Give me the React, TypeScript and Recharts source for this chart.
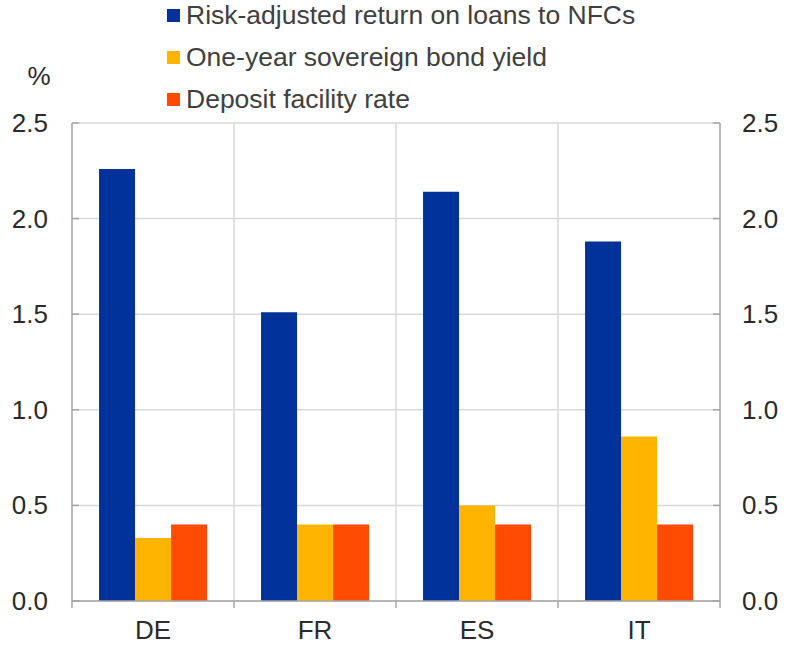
import React from "react";
import {
  ComposedChart,
  Bar,
  Line,
  XAxis,
  YAxis,
  CartesianGrid,
  Legend,
} from "recharts";

const countries = ["DE", "FR", "ES", "IT"];
const riskAdjustedReturn = [2.26, 1.51, 2.14, 1.88];
const sovereignYield = [0.33, 0.4, 0.5, 0.86];
const depositRate = [0.4, 0.4, 0.4, 0.4];
const yTicks = [0, 0.5, 1.0, 1.5, 2.0, 2.5];

const series = [
  { key: "loans", name: "Risk-adjusted return on loans to NFCs", color: "#003299" },
  { key: "bond", name: "One-year sovereign bond yield", color: "#FFB400" },
  { key: "dfr", name: "Deposit facility rate", color: "#FF4B00" },
];

const data = countries.map((c, i) => ({
  name: c,
  loans: riskAdjustedReturn[i],
  bond: sovereignYield[i],
  dfr: depositRate[i],
}));

const W = 792;
const H = 645;
const AXIS_W = 72;
const TOP = 123;
const XAXIS_H = 44;
const PLOT_W = W - 2 * AXIS_W;
const BAND = PLOT_W / countries.length;

const FONT = "'Liberation Sans', Arial, sans-serif";
const FS = 26;
const AXIS_COLOR = "#a6a6a6";
const GRID_COLOR = "#d9d9d9";
const TEXT_COLOR = "#2b2b2b";

const LeftTick = (props: any) => {
  const { x, y, payload } = props;
  return (
    <g>
      <line x1={x} x2={x + 7} y1={y} y2={y} stroke={AXIS_COLOR} strokeWidth={1.5} />
      <text x={x - 24} y={y + 9} textAnchor="end" fontSize={FS} fill={TEXT_COLOR} fontFamily={FONT}>
        {payload.value.toFixed(1)}
      </text>
    </g>
  );
};

const RightTick = (props: any) => {
  const { x, y, payload } = props;
  return (
    <g>
      <line x1={x - 7} x2={x} y1={y} y2={y} stroke={AXIS_COLOR} strokeWidth={1.5} />
      <text x={x + 22} y={y + 9} textAnchor="start" fontSize={FS} fill={TEXT_COLOR} fontFamily={FONT}>
        {payload.value.toFixed(1)}
      </text>
    </g>
  );
};

const CategoryTick = (props: any) => {
  const { x, y, payload, index } = props;
  const left = x - BAND / 2;
  const right = x + BAND / 2;
  return (
    <g>
      <line x1={left} x2={left} y1={y} y2={y + 7} stroke={AXIS_COLOR} strokeWidth={1.5} />
      {index === countries.length - 1 && (
        <line x1={right} x2={right} y1={y} y2={y + 7} stroke={AXIS_COLOR} strokeWidth={1.5} />
      )}
      <text x={x} y={y + 38} textAnchor="middle" fontSize={FS} fill={TEXT_COLOR} fontFamily={FONT}>
        {payload.value}
      </text>
    </g>
  );
};

const renderLegend = () => (
  <div style={{ fontFamily: FONT, fontSize: 26.5, color: "#404040" }}>
    {series.map((s) => (
      <div key={s.key} style={{ display: "flex", alignItems: "center", height: 42 }}>
        <span
          style={{
            display: "inline-block",
            width: 13,
            height: 13,
            background: s.color,
            marginRight: 6,
          }}
        />
        <span>{s.name}</span>
      </div>
    ))}
  </div>
);

export default function App() {
  return (
    <div style={{ position: "absolute", left: 0, top: 0, width: W, height: H, background: "#fff" }}>
      <ComposedChart
        width={W}
        height={H}
        data={data}
        margin={{ top: TOP, right: 0, bottom: 0, left: 0 }}
        barCategoryGap="16.7%"
        barGap={0}
      >
        <CartesianGrid
          stroke={GRID_COLOR}
          strokeWidth={1.5}
          yAxisId="left"
          verticalCoordinatesGenerator={({ offset }: any) =>
            countries.slice(1).map((_, i) => offset.left + ((i + 1) * offset.width) / countries.length)
          }
        />
        <XAxis
          dataKey="name"
          height={XAXIS_H}
          axisLine={{ stroke: AXIS_COLOR, strokeWidth: 1.5 }}
          tickLine={false}
          tickSize={0}
          tickMargin={0}
          tick={<CategoryTick />}
          interval={0}
        />
        <YAxis
          yAxisId="left"
          orientation="left"
          width={AXIS_W}
          domain={[0, 2.5]}
          ticks={yTicks}
          axisLine={{ stroke: AXIS_COLOR, strokeWidth: 1.5 }}
          tickLine={false}
          tickSize={0}
          tickMargin={0}
          tick={<LeftTick />}
          label={{
            content: () => (
              <text x={39} y={85} textAnchor="middle" fontSize={FS} fill={TEXT_COLOR} fontFamily={FONT}>
                %
              </text>
            ),
          }}
        />
        <YAxis
          yAxisId="right"
          orientation="right"
          width={AXIS_W}
          domain={[0, 2.5]}
          ticks={yTicks}
          axisLine={{ stroke: AXIS_COLOR, strokeWidth: 1.5 }}
          tickLine={false}
          tickSize={0}
          tickMargin={0}
          tick={<RightTick />}
        />
        {series.map((s) => (
          <Bar
            key={s.key}
            yAxisId="left"
            dataKey={s.key}
            name={s.name}
            fill={s.color}
            isAnimationActive={false}
          />
        ))}
        <Line
          yAxisId="right"
          dataKey="loans"
          stroke="none"
          dot={false}
          activeDot={false}
          legendType="none"
          isAnimationActive={false}
        />
        <Legend
          content={renderLegend}
          verticalAlign="middle"
          wrapperStyle={{ position: "absolute", top: -6, left: 167, width: 600 }}
        />
      </ComposedChart>
    </div>
  );
}
